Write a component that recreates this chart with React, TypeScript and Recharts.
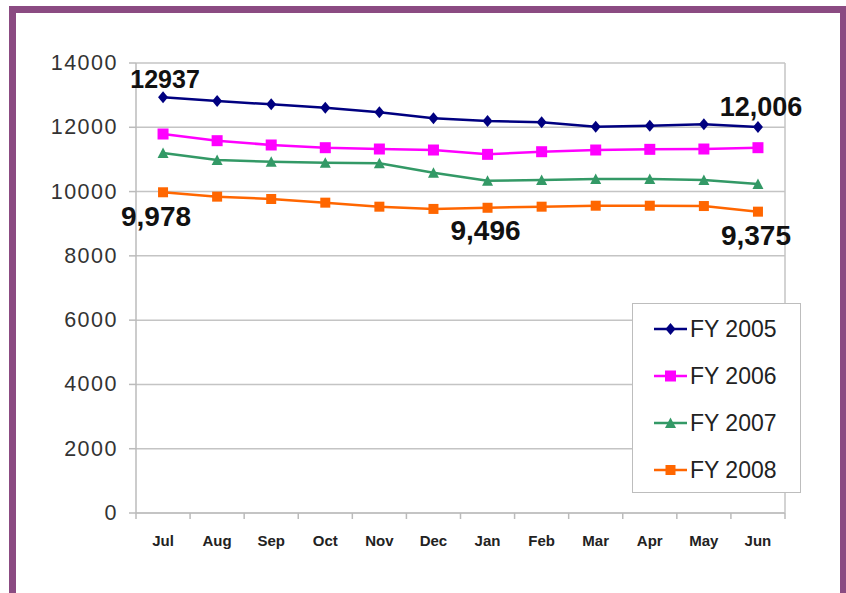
import React from 'react';
import { LineChart, Line, XAxis, YAxis, CartesianGrid, ReferenceLine, Legend } from 'recharts';

const months = ['Jul', 'Aug', 'Sep', 'Oct', 'Nov', 'Dec', 'Jan', 'Feb', 'Mar', 'Apr', 'May', 'Jun'];
const fy2005 = [12937, 12817, 12714, 12610, 12465, 12279, 12195, 12155, 12018, 12050, 12092, 12006];
const fy2006 = [11791, 11583, 11449, 11365, 11324, 11293, 11158, 11240, 11293, 11314, 11324, 11365];
const fy2007 = [11200, 10982, 10930, 10898, 10878, 10586, 10338, 10359, 10390, 10390, 10359, 10235];
const fy2008 = [9978, 9842, 9769, 9655, 9530, 9460, 9496, 9530, 9560, 9560, 9550, 9375];
const yTicks = [0, 2000, 4000, 6000, 8000, 10000, 12000, 14000];
const xBoundaries = [0, 1, 2, 3, 4, 5, 6, 7, 8, 9, 10, 11, 12];

// annotated values: [seriesKey, index, text, dx, dy, fontSize]
const annotations: [string, number, string, number, number, number][] = [
  ['fy2005', 0, '12937', 2, -18, 25],
  ['fy2005', 11, '12,006', 3, -20, 27],
  ['fy2008', 0, '9,978', -7, 24, 28],
  ['fy2008', 6, '9,496', -2, 23, 28],
  ['fy2008', 11, '9,375', -2, 24, 28],
];

const data = months.map((m, i) => ({
  x: i + 0.5,
  month: m,
  fy2005: fy2005[i],
  fy2006: fy2006[i],
  fy2007: fy2007[i],
  fy2008: fy2008[i],
}));

const FONT = '"Liberation Sans", Arial, Helvetica, sans-serif';
const W = 846;
const H = 593;
const M = { top: 63, right: 61, bottom: 40, left: 0 };
const Y_W = 136;
const X_H = 40;
const PLOT_W = W - M.left - M.right - Y_W;
const BAND = PLOT_W / months.length;

type Shape = 'diamond' | 'square' | 'triangle';
const series: { key: string; name: string; color: string; shape: Shape; size: number }[] = [
  { key: 'fy2005', name: 'FY 2005', color: '#000080', shape: 'diamond', size: 11 },
  { key: 'fy2006', name: 'FY 2006', color: '#ff00ff', shape: 'square', size: 11 },
  { key: 'fy2007', name: 'FY 2007', color: '#339966', shape: 'triangle', size: 11 },
  { key: 'fy2008', name: 'FY 2008', color: '#ff6600', shape: 'square', size: 10 },
];

function marker(shape: Shape, color: string, size: number, cx: number, cy: number, key?: string) {
  const h = size / 2;
  if (shape === 'diamond') {
    return (
      <polygon key={key} points={`${cx},${cy - h - 0.5} ${cx + h - 0.5},${cy} ${cx},${cy + h + 0.5} ${cx - h + 0.5},${cy}`} fill={color} />
    );
  }
  if (shape === 'triangle') {
    return <polygon key={key} points={`${cx},${cy - h} ${cx + h},${cy + h - 0.5} ${cx - h},${cy + h - 0.5}`} fill={color} />;
  }
  return <rect key={key} x={cx - h} y={cy - h} width={size} height={size} fill={color} />;
}

const makeDot = (shape: Shape, color: string, size: number) => (props: any) => {
  const { cx, cy, index } = props;
  if (cx == null || cy == null) return <g key={`d${index}`} />;
  return marker(shape, color, size, cx, cy, `d${shape}${color}${index}`);
};

const makeLabel = (key: string) => (props: any) => {
  const { x, y, index } = props;
  const a = annotations.find((t) => t[0] === key && t[1] === index);
  if (!a) return <g key={`l${key}${index}`} />;
  return (
    <text
      key={`l${key}${index}`}
      x={x + a[3]}
      y={y + a[4]}
      textAnchor="middle"
      dominantBaseline="central"
      fontFamily={FONT}
      fontWeight="bold"
      fontSize={a[5]}
      fill="#111"
    >
      {a[2]}
    </text>
  );
};

const YTick = (props: any) => {
  const { x, y, payload } = props;
  return (
    <text x={x} y={y} textAnchor="end" dominantBaseline="central" fontFamily={FONT} fontSize={21.5} fill="#333" style={{ letterSpacing: '1.5px' }}>
      {payload.value}
    </text>
  );
};

const XTick = (props: any) => {
  const { x, y, payload } = props;
  const v = payload.value as number;
  if (v >= months.length) return <g />;
  return (
    <text x={x + BAND / 2} y={y} dy="0.71em" textAnchor="middle" fontFamily={FONT} fontWeight="bold" fontSize={15} fill="#222">
      {months[v]}
    </text>
  );
};

const LegendBox = () => (
  <div
    style={{
      width: 169,
      height: 190,
      boxSizing: 'border-box',
      border: '1.5px solid #bdbdbd',
      background: '#fff',
      position: 'relative',
    }}
  >
    <svg width={169} height={190} style={{ position: 'absolute', left: -1.5, top: -1.5 }}>
      {series.map((s, i) => {
        const cy = 26 + i * 47;
        return (
          <g key={s.key}>
            <line x1={22} x2={55} y1={cy} y2={cy} stroke={s.color} strokeWidth={2.5} />
            {marker(s.shape, s.color, s.size, 38.5, cy)}
            <text x={58} y={cy} dominantBaseline="central" fontFamily={FONT} fontSize={23} fill="#222">
              {s.name}
            </text>
          </g>
        );
      })}
    </svg>
  </div>
);

export default function App() {
  return (
    <div style={{ position: 'fixed', left: 0, top: 0, width: W, height: H, overflow: 'hidden', background: '#fff' }}>
      <div
        style={{
          position: 'absolute',
          left: 9,
          top: 6,
          width: 838,
          height: 640,
          boxSizing: 'border-box',
          border: '7px solid #8b4b82',
        }}
      />
      <div style={{ position: 'absolute', left: 0, top: 0 }}>
        <LineChart width={W} height={H} data={data} margin={M}>
          <CartesianGrid vertical={false} stroke="#c4c4c4" strokeWidth={1.5} />
          <XAxis
            dataKey="x"
            type="number"
            domain={[0, 12]}
            ticks={xBoundaries}
            interval={0}
            height={X_H}
            tick={<XTick />}
            tickLine={{ stroke: '#bbbbbb', strokeWidth: 1.5 }}
            tickSize={6}
            tickMargin={16}
            axisLine={{ stroke: '#c4c4c4', strokeWidth: 2 }}
          />
          <YAxis
            type="number"
            domain={[0, 14000]}
            ticks={yTicks}
            interval={0}
            width={Y_W}
            tick={<YTick />}
            tickSize={7}
            tickMargin={11}
            tickLine={{ stroke: '#bbbbbb', strokeWidth: 1.5 }}
            axisLine={{ stroke: '#bbbbbb', strokeWidth: 1.5 }}
          />
          <ReferenceLine x={12} stroke="#c4c4c4" strokeWidth={1.5} />
          {series.map((s) => (
            <Line
              key={s.key}
              dataKey={s.key}
              name={s.name}
              stroke={s.color}
              strokeWidth={2.5}
              dot={makeDot(s.shape, s.color, s.size)}
              activeDot={false}
              label={makeLabel(s.key)}
              isAnimationActive={false}
            />
          ))}
          <Legend
            layout="vertical"
            align="center"
            verticalAlign="middle"
            content={<LegendBox />}
            wrapperStyle={{ position: 'absolute', left: 632, top: 303, width: 169, height: 190 }}
          />
        </LineChart>
      </div>
    </div>
  );
}
